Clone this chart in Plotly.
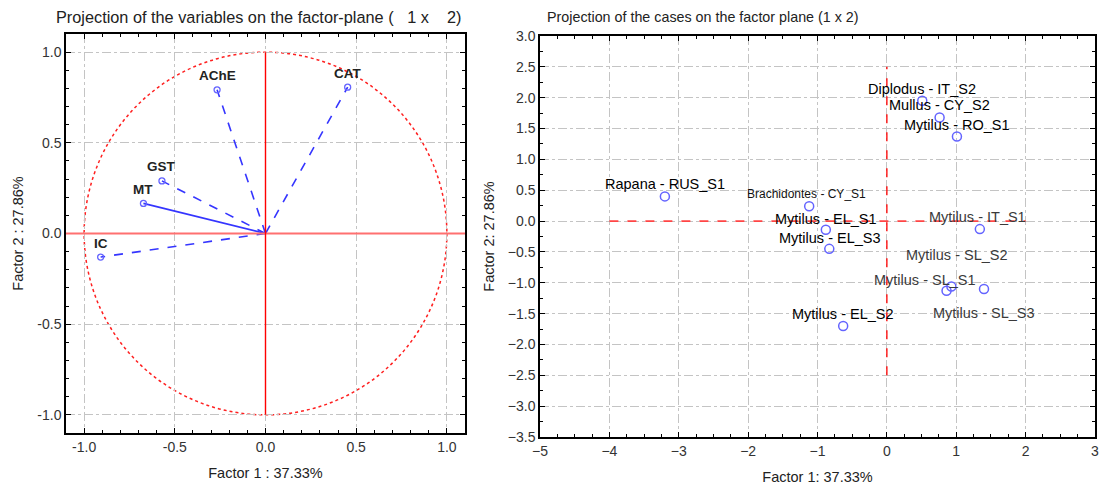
import plotly.graph_objects as go

# ---------------- data ----------------
var_names = ["CAT", "AChE", "GST", "MT", "IC"]
var_f1 = [0.453, -0.267, -0.571, -0.673, -0.909]
var_f2 = [0.807, 0.792, 0.290, 0.166, -0.130]

case_names = ["Diplodus - IT_S2", "Mullus - CY_S2", "Mytilus - RO_S1", "Rapana - RUS_S1",
              "Brachidontes - CY_S1", "Mytilus - EL_S1", "Mytilus - EL_S3", "Mytilus - IT_S1",
              "Mytilus - SL_S2", "Mytilus - SL_S1", "Mytilus - SL_S3", "Mytilus - EL_S2"]
case_f1 = [0.51, 0.76, 1.01, -3.20, -1.12, -0.88, -0.83, 1.34, 0.93, 0.86, 1.40, -0.63]
case_f2 = [1.95, 1.68, 1.37, 0.40, 0.24, -0.14, -0.45, -0.13, -1.06, -1.13, -1.10, -1.70]

left_ticks = [-1.0, -0.5, 0.0, 0.5, 1.0]
left_ticklabels = ["-1.0", "-0.5", "0.0", "0.5", "1.0"]
right_xticks = [-5, -4, -3, -2, -1, 0, 1, 2, 3]
right_yticks = [3.0, 2.5, 2.0, 1.5, 1.0, 0.5, 0.0, -0.5, -1.0, -1.5, -2.0, -2.5, -3.0, -3.5]

# ---------------- styles ----------------
var_dash = ["dash", "dash", "dash", "solid", "dash"]
case_label_dx = [0, 0, 0, 0, -3, 0, 1, -2, 6, -22, 0, 0]
case_label_dy = [12, 12, 12, 12, 12, 11, 11, 12, 31, 11, -24, 12]
case_label_color = ["#000", "#000", "#000", "#000", "#111", "#000", "#000",
                    "#3a3a3a", "#3a3a3a", "#3a3a3a", "#3a3a3a", "#000"]
case_label_size = [14.5, 14.5, 14.5, 14.5, 12, 14.5, 14.5, 14.5, 14.5, 14.5, 14.5, 14.5]

FONT = "Liberation Sans, Arial, sans-serif"
BLUE = "#3535ff"
MBLUE = "#6464ff"
GRID = "#c4c4c4"
W, H = 1101, 493

fig = go.Figure()

# vectors (left)
for i, n in enumerate(var_names):
    fig.add_trace(go.Scatter(x=[0, var_f1[i]], y=[0, var_f2[i]], mode="lines",
                             line=dict(color=BLUE, width=1.6, dash=var_dash[i]),
                             xaxis="x", yaxis="y", showlegend=False, hoverinfo="skip"))
fig.add_trace(go.Scatter(x=var_f1, y=var_f2, mode="markers",
                         marker=dict(symbol="circle-open", size=6, color=MBLUE, line=dict(width=1.3)),
                         xaxis="x", yaxis="y", showlegend=False, text=var_names))

# cases (right)
fig.add_trace(go.Scatter(x=case_f1, y=case_f2, mode="markers",
                         marker=dict(symbol="circle-open", size=9, color=MBLUE, line=dict(width=1.5)),
                         xaxis="x2", yaxis="y2", showlegend=False, text=case_names))

annotations = []
for i, n in enumerate(var_names):
    annotations.append(dict(x=var_f1[i], y=var_f2[i], xref="x", yref="y", text=n,
                            showarrow=False, yshift=14, xanchor="center", yanchor="middle",
                            font=dict(family=FONT, size=13.5, color="#222", weight=700)))
for i, n in enumerate(case_names):
    annotations.append(dict(x=case_f1[i], y=case_f2[i], xref="x2", yref="y2", text=n,
                            showarrow=False, xshift=case_label_dx[i], yshift=case_label_dy[i],
                            xanchor="center", yanchor="middle",
                            font=dict(family=FONT, size=case_label_size[i], color=case_label_color[i])))

# titles
annotations += [
    dict(x=54 / W, y=1 - 17 / H, xref="paper", yref="paper", showarrow=False,
         xanchor="left", yanchor="middle",
         text="Projection of the variables on the factor-plane (\u00a0\u00a0\u00a01 x \u00a0\u00a0\u00a02)",
         font=dict(family=FONT, size=16.3, color="#222")),
    dict(x=545 / W, y=1 - 17 / H, xref="paper", yref="paper", showarrow=False,
         xanchor="left", yanchor="middle",
         text="Projection of the cases on the factor plane (1 x 2)",
         font=dict(family=FONT, size=14.3, color="#222")),
]

shapes = [
    # unit circle
    dict(type="circle", xref="x", yref="y", x0=-1, y0=-1, x1=1, y1=1,
         line=dict(color="#ff2020", width=1.5, dash="dot"), layer="below"),
    # left zero lines
    dict(type="line", xref="x domain", yref="y", x0=0, x1=1, y0=0, y1=0,
         line=dict(color="#ff7070", width=2.2), layer="above"),
    dict(type="line", xref="x", yref="y", x0=0, x1=0, y0=-1, y1=1,
         line=dict(color="#ff0000", width=1.4), layer="above"),
    # right reference lines
    dict(type="line", xref="x2", yref="y2", x0=-4, x1=2, y0=0, y1=0,
         line=dict(color="#ff4545", width=1.6, dash="dash"), layer="above"),
    dict(type="line", xref="x2", yref="y2", x0=0, x1=0, y0=-2.5, y1=2.5,
         line=dict(color="#ff0000", width=1.3, dash="dash"), layer="above"),
]


def axis(minor_dtick, **kw):
    d = dict(showline=True, linecolor="black", linewidth=1.5, mirror="allticks",
             showgrid=True, gridcolor=GRID, griddash="dashdot", gridwidth=1,
             zeroline=False, ticks="inside", ticklen=5, tickcolor="black", automargin=False,
             tickfont=dict(family=FONT, size=14, color="#333"),
             minor=dict(ticks="inside", ticklen=3, tickcolor="black", showgrid=False,
                        dtick=minor_dtick, tick0=0))
    d.update(kw)
    return d


fig.update_layout(
    width=W, height=H, margin=dict(l=0, r=0, t=0, b=0),
    paper_bgcolor="white", plot_bgcolor="white",
    font=dict(family=FONT, size=13, color="#333"),
    xaxis=axis(0.1, domain=[66 / W, 465 / W], range=[-1.1, 1.1], anchor="y",
               tickvals=left_ticks, ticktext=left_ticklabels,
               title=dict(text="Factor 1 : 37.33%", font=dict(family=FONT, size=14.5, color="#222"), standoff=14)),
    yaxis=axis(0.1, domain=[1 - 433 / H, 1 - 34 / H], range=[-1.1, 1.1], anchor="x",
               tickvals=left_ticks, ticktext=left_ticklabels,
               title=dict(text="Factor 2 : 27.86%", font=dict(family=FONT, size=14.5, color="#222"), standoff=10)),
    xaxis2=axis(0.25, domain=[540 / W, 1095 / W], range=[-5, 3], anchor="y2",
                tickvals=right_xticks,
                title=dict(text="Factor 1: 37.33%", font=dict(family=FONT, size=14.5, color="#222"), standoff=14)),
    yaxis2=axis(0.25, domain=[1 - 437 / H, 1 - 36 / H], range=[-3.5, 3.0], anchor="x2",
                tickvals=right_yticks, tickformat=".1f",
                title=dict(text="Factor 2: 27.86%", font=dict(family=FONT, size=14.5, color="#222"), standoff=10)),
    shapes=shapes, annotations=annotations,
)

fig.write_html("out.html", config={"displayModeBar": False},
               post_script="document.body.style.margin='0';")
